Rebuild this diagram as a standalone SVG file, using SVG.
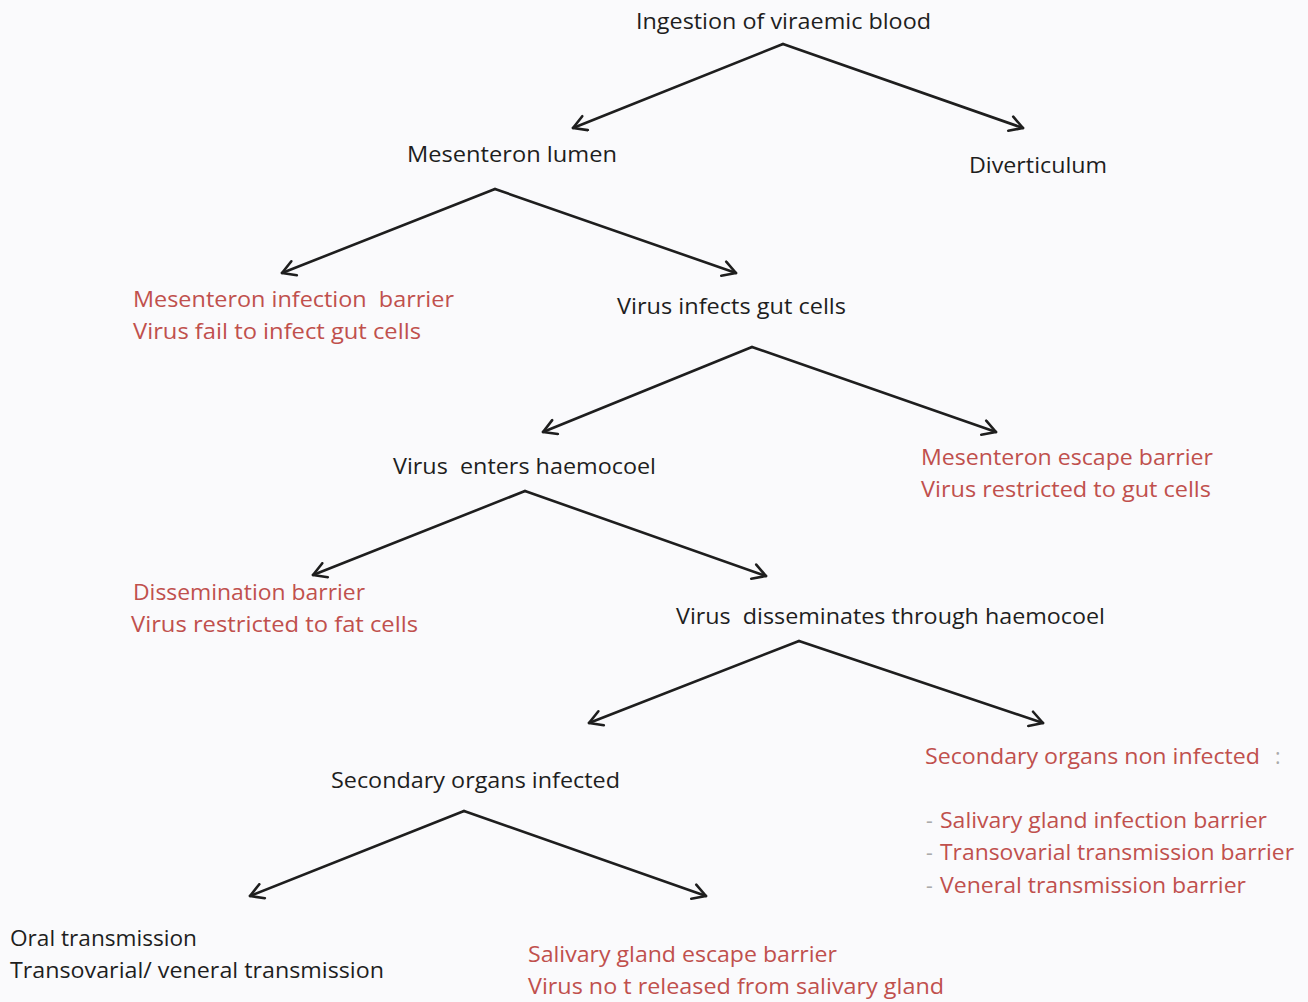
<svg xmlns="http://www.w3.org/2000/svg" width="1308" height="1002" viewBox="0 0 1308 1002">
<defs>
<style>
text{font-family:"Open Sans","Liberation Sans",sans-serif;font-size:21px;white-space:pre}
.k{fill:#1e1e1e}
.r{fill:#c0504d}
.g{fill:#aaaaaa}
.c{fill:none;stroke:#1e1e1e;stroke-width:2.6;stroke-linecap:round;marker-end:url(#ah)}
</style>
<marker id="ah" markerUnits="userSpaceOnUse" viewBox="0 0 18 18" refX="16" refY="9" markerWidth="18" markerHeight="18" orient="auto">
<path d="M3,1.5 L16,9 L3,16.5" fill="none" stroke="#1e1e1e" stroke-width="2.6" stroke-linecap="round" stroke-linejoin="round"/>
</marker>
</defs>
<rect width="1308" height="1002" fill="#fafafc"/>
<g id="connectors">
<path class="c" d="M783,44 L573,128"/><path class="c" d="M783,44 L1023,128"/>
<path class="c" d="M495,189 L282,273"/><path class="c" d="M495,189 L736,273"/>
<path class="c" d="M752,347 L543,432"/><path class="c" d="M752,347 L996,432"/>
<path class="c" d="M525,491 L313,575"/><path class="c" d="M525,491 L766,576"/>
<path class="c" d="M799,641 L589,723"/><path class="c" d="M799,641 L1043,723"/>
<path class="c" d="M464,811 L250,896"/><path class="c" d="M464,811 L706,896"/>
</g>
<g id="n-ingestion"><text class="k" x="636" y="29" textLength="295" lengthAdjust="spacingAndGlyphs">Ingestion of viraemic blood</text></g>
<g id="n-lumen"><text class="k" x="407" y="162" textLength="210" lengthAdjust="spacingAndGlyphs">Mesenteron lumen</text></g>
<g id="n-diverticulum"><text class="k" x="969" y="173" textLength="138" lengthAdjust="spacingAndGlyphs">Diverticulum</text></g>
<g id="n-mib">
<text class="r" x="133" y="307" textLength="321" lengthAdjust="spacingAndGlyphs">Mesenteron infection  barrier</text>
<text class="r" x="133" y="339" textLength="288" lengthAdjust="spacingAndGlyphs">Virus fail to infect gut cells</text>
</g>
<g id="n-gut"><text class="k" x="617" y="314" textLength="229" lengthAdjust="spacingAndGlyphs">Virus infects gut cells</text></g>
<g id="n-haemocoel"><text class="k" x="393" y="474" textLength="263" lengthAdjust="spacingAndGlyphs">Virus  enters haemocoel</text></g>
<g id="n-meb">
<text class="r" x="921" y="465" textLength="292" lengthAdjust="spacingAndGlyphs">Mesenteron escape barrier</text>
<text class="r" x="921" y="497" textLength="290" lengthAdjust="spacingAndGlyphs">Virus restricted to gut cells</text>
</g>
<g id="n-db">
<text class="r" x="133" y="600" textLength="232" lengthAdjust="spacingAndGlyphs">Dissemination barrier</text>
<text class="r" x="131" y="632" textLength="287" lengthAdjust="spacingAndGlyphs">Virus restricted to fat cells</text>
</g>
<g id="n-disseminates"><text class="k" x="676" y="624" textLength="429" lengthAdjust="spacingAndGlyphs">Virus  disseminates through haemocoel</text></g>
<g id="n-secondary"><text class="k" x="331" y="788" textLength="289" lengthAdjust="spacingAndGlyphs">Secondary organs infected</text></g>
<g id="n-noninfected">
<text class="r" x="925" y="764" textLength="335" lengthAdjust="spacingAndGlyphs">Secondary organs non infected</text>
<text class="g" x="1275" y="764">:</text>
<text class="g" x="926" y="828">-</text>
<text class="r" x="940" y="828" textLength="327" lengthAdjust="spacingAndGlyphs">Salivary gland infection barrier</text>
<text class="g" x="926" y="860">-</text>
<text class="r" x="940" y="860" textLength="354" lengthAdjust="spacingAndGlyphs">Transovarial transmission barrier</text>
<text class="g" x="926" y="893">-</text>
<text class="r" x="940" y="893" textLength="306" lengthAdjust="spacingAndGlyphs">Veneral transmission barrier</text>
</g>
<g id="n-oral">
<text class="k" x="10" y="946" textLength="187" lengthAdjust="spacingAndGlyphs">Oral transmission</text>
<text class="k" x="10" y="978" textLength="374" lengthAdjust="spacingAndGlyphs">Transovarial/ veneral transmission</text>
</g>
<g id="n-sgeb">
<text class="r" x="528" y="962" textLength="309" lengthAdjust="spacingAndGlyphs">Salivary gland escape barrier</text>
<text class="r" x="528" y="994" textLength="416" lengthAdjust="spacingAndGlyphs">Virus no t released from salivary gland</text>
</g>
</svg>
